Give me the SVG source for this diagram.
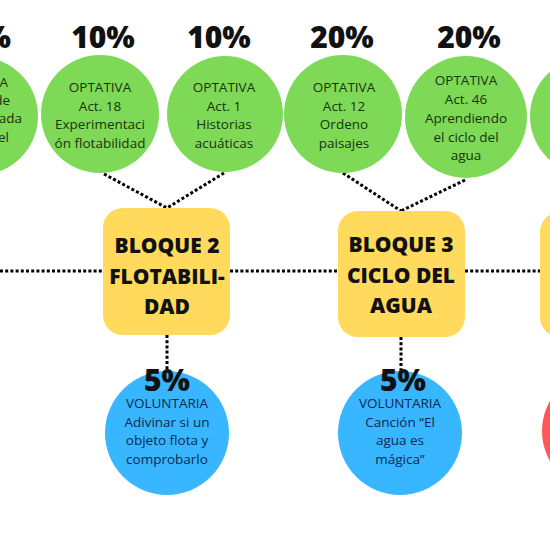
<svg xmlns="http://www.w3.org/2000/svg" width="550" height="550" viewBox="0 0 550 550">
<style>
.green{fill:#7ED957}
.blue{fill:#38B6FF}
.yellow{fill:#FFDA5C}
.red{fill:#FF5757}
.pct{font-family:"Open Sans","Liberation Sans",sans-serif;font-weight:800;font-size:30px;fill:#111;text-anchor:middle}
.gt{font-family:"Open Sans","Liberation Sans",sans-serif;font-size:13.5px;fill:#17330f;text-anchor:middle}
.bt{font-family:"Open Sans","Liberation Sans",sans-serif;font-size:13.5px;fill:#0d2a4d;text-anchor:middle}
.yt{font-family:"Open Sans","Liberation Sans",sans-serif;font-weight:800;font-size:21px;fill:#111;text-anchor:middle}
.conn{stroke:#000;stroke-width:3;stroke-dasharray:3 2.2;fill:none}
</style>
<rect width="550" height="550" fill="#fff"/>
<g id="connectors">
<line class="conn" x1="0" y1="271" x2="103" y2="271"/>
<line class="conn" x1="230" y1="271" x2="338" y2="271"/>
<line class="conn" x1="465" y1="271" x2="540" y2="271"/>
<line class="conn" x1="104" y1="174" x2="167" y2="208"/>
<line class="conn" x1="224" y1="173" x2="167" y2="208"/>
<line class="conn" x1="343" y1="173" x2="401" y2="211"/>
<line class="conn" x1="465" y1="180" x2="401" y2="211"/>
<line class="conn" x1="167" y1="335" x2="167" y2="370"/>
<line class="conn" x1="401" y1="337" x2="401" y2="372"/>
</g>
<g id="opt0">
<circle class="green" cx="-21" cy="116" r="59"/>
<text class="pct" x="11" y="48" style="text-anchor:end">%</text>
<text class="gt" x="8" y="87" style="text-anchor:end">A</text>
<text class="gt" x="10" y="105" style="text-anchor:end">de</text>
<text class="gt" x="22" y="123" style="text-anchor:end">ada</text>
<text class="gt" x="9" y="142" style="text-anchor:end">el</text>
</g>
<g id="opt18">
<circle class="green" cx="100" cy="114" r="59"/>
<text class="pct" x="103" y="48">10%</text>
<text class="gt" x="100" y="92">OPTATIVA</text>
<text class="gt" x="100" y="110.5">Act. 18</text>
<text class="gt" x="100" y="129">Experimentaci</text>
<text class="gt" x="100" y="148">ón flotabilidad</text>
</g>
<g id="opt1">
<circle class="green" cx="225" cy="114" r="58"/>
<text class="pct" x="219" y="48">10%</text>
<text class="gt" x="224" y="92">OPTATIVA</text>
<text class="gt" x="224" y="110.5">Act. 1</text>
<text class="gt" x="224" y="129">Historias</text>
<text class="gt" x="224" y="148">acuáticas</text>
</g>
<g id="opt12">
<circle class="green" cx="343" cy="114" r="59"/>
<text class="pct" x="342" y="48">20%</text>
<text class="gt" x="344" y="92">OPTATIVA</text>
<text class="gt" x="344" y="110.5">Act. 12</text>
<text class="gt" x="344" y="129">Ordeno</text>
<text class="gt" x="344" y="148">paisajes</text>
</g>
<g id="opt46">
<circle class="green" cx="466" cy="117" r="61"/>
<text class="pct" x="469" y="48">20%</text>
<text class="gt" x="466" y="85">OPTATIVA</text>
<text class="gt" x="466" y="104">Act. 46</text>
<text class="gt" x="466" y="123">Aprendiendo</text>
<text class="gt" x="466" y="142">el ciclo del</text>
<text class="gt" x="466" y="160">agua</text>
</g>
<g id="opt-right">
<circle class="green" cx="589" cy="116" r="59"/>
</g>
<g id="bloque2">
<rect class="yellow" x="103" y="208" width="127" height="127" rx="20"/>
<text class="yt" x="167" y="252.5">BLOQUE 2</text>
<text class="yt" x="167" y="284">FLOTABILI-</text>
<text class="yt" x="167" y="314">DAD</text>
</g>
<g id="bloque3">
<rect class="yellow" x="338" y="211" width="127" height="126" rx="20"/>
<text class="yt" x="401" y="252">BLOQUE 3</text>
<text class="yt" x="401" y="283">CICLO DEL</text>
<text class="yt" x="401" y="313">AGUA</text>
</g>
<g id="bloque4">
<rect class="yellow" x="540" y="212" width="127" height="125" rx="20"/>
</g>
<g id="vol2">
<circle class="blue" cx="167" cy="433" r="62"/>
<text class="pct" x="167" y="391">5%</text>
<text class="bt" x="167" y="408">VOLUNTARIA</text>
<text class="bt" x="167" y="427">Adivinar si un</text>
<text class="bt" x="167" y="445">objeto flota y</text>
<text class="bt" x="167" y="464">comprobarlo</text>
</g>
<g id="vol3">
<circle class="blue" cx="400" cy="433" r="62"/>
<text class="pct" x="403" y="391">5%</text>
<text class="bt" x="400" y="408">VOLUNTARIA</text>
<text class="bt" x="400" y="427">Canción “El</text>
<text class="bt" x="400" y="445">agua es</text>
<text class="bt" x="400" y="464">mágica”</text>
</g>
<g id="red-right">
<circle class="red" cx="602" cy="431" r="60"/>
</g>
</svg>
